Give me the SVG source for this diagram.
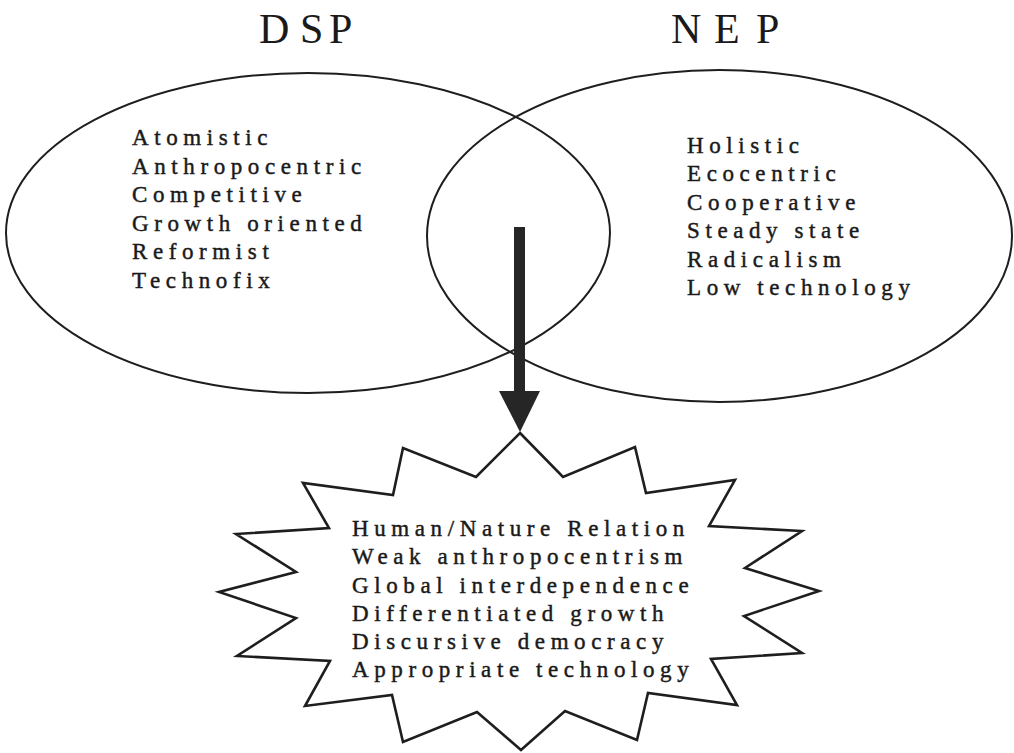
<svg xmlns="http://www.w3.org/2000/svg" width="1014" height="753" viewBox="0 0 1014 753">
<style>
.bg{fill:#ffffff}
.oval{fill:none;stroke:#1e1e1e;stroke-width:2}
.star{fill:none;stroke:#1e1e1e;stroke-width:2.6;stroke-linejoin:miter}
.title{font-family:"Liberation Serif","Times New Roman",serif;font-size:42px;fill:#1a1a1a}
.item{font-family:"Liberation Serif","Times New Roman",serif;font-size:23px;letter-spacing:5.6px;fill:#1a1a1a;stroke:#1a1a1a;stroke-width:0.45px}
.shaft{stroke:#262626;stroke-width:11;fill:none}
.head{fill:#262626}
</style>
<rect class="bg" x="0" y="0" width="1014" height="753"/>
<g id="dsp">
  <ellipse class="oval" cx="308" cy="233" rx="302" ry="160"/>
  <text class="title" x="259 300 329" y="43">DSP</text>
  <text class="item" x="132" y="145">Atomistic</text>
  <text class="item" x="132" y="173.5">Anthropocentric</text>
  <text class="item" x="132" y="202">Competitive</text>
  <text class="item" x="132" y="230.5">Growth oriented</text>
  <text class="item" x="132" y="259">Reformist</text>
  <text class="item" x="132" y="287.5">Technofix</text>
</g>
<g id="nep">
  <ellipse class="oval" cx="719.5" cy="236" rx="292.5" ry="166"/>
  <text class="title" x="671 714 756" y="43">NEP</text>
  <text class="item" x="687" y="153">Holistic</text>
  <text class="item" x="687" y="181">Ecocentric</text>
  <text class="item" x="687" y="209.5">Cooperative</text>
  <text class="item" x="687" y="238">Steady state</text>
  <text class="item" x="687" y="266.5">Radicalism</text>
  <text class="item" x="687" y="295">Low technology</text>
</g>
<g id="synthesis">
  <polygon class="star" points="520,433 563,477 635,447 646,493 735,480 709,526 802,531 745,568 819,591 744,616 802,653 711,659 737,705 648,693 637,740 565,711 521,750 477,712 403,742 392,695 305,706 330,661 237,656 296,618 219,592 296,572 236,534 329,528 303,483 393,495 403,448 476,477"/>
  <text class="item" x="352" y="536">Human/Nature Relation</text>
  <text class="item" x="352" y="564">Weak anthropocentrism</text>
  <text class="item" x="352" y="592.5">Global interdependence</text>
  <text class="item" x="352" y="621">Differentiated growth</text>
  <text class="item" x="352" y="649">Discursive democracy</text>
  <text class="item" x="352" y="677">Appropriate technology</text>
</g>
<g id="connectors">
  <line class="shaft" x1="519.5" y1="227" x2="519.5" y2="394"/>
  <polygon class="head" points="499,391 540,391 520,432"/>
</g>
</svg>
